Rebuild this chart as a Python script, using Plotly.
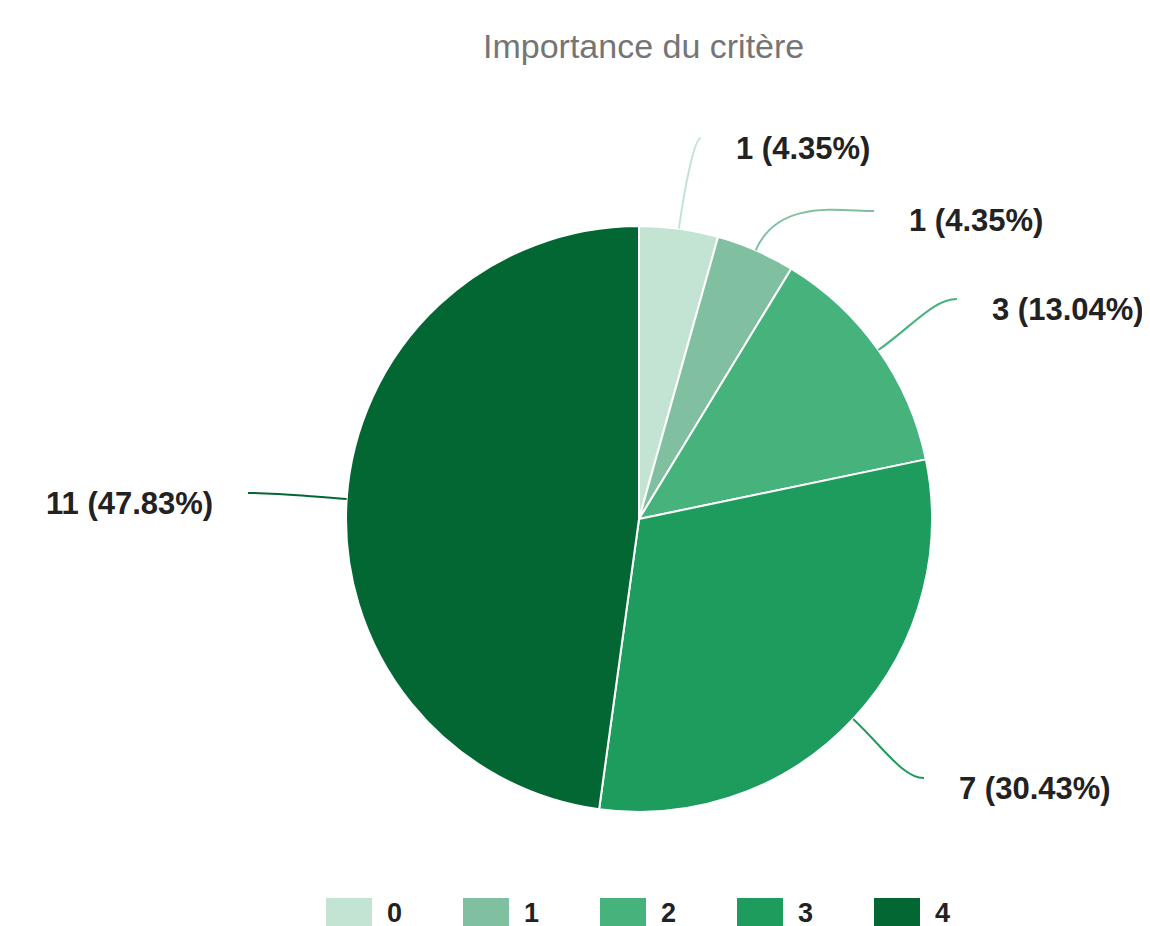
import math
import plotly.graph_objects as go

# ---- data ----
categories = ["0", "1", "2", "3", "4"]
values = [1, 1, 3, 7, 11]
colors = ["#c4e4d3", "#80c0a0", "#46b37d", "#1d9c5e", "#036733"]
line_colors = ["#c4e4d3", "#80c0a0", "#46b37d", "#1d9c5e", "#036733"]
title_text = "Importance du critère"

# ---- layout constants (pixels) ----
W, H = 1150, 926
CX, CY, R = 631, 511, 293
# label anchor (x, y, side) for each slice
LABEL_POS = [(726, 140, "left"), (899, 213, "left"), (982, 301, "left"),
             (949, 780, "left"), (207, 495, "right")]
LEGEND_X0, LEGEND_STEP, LEGEND_Y0, LEGEND_Y1, LEGEND_W = 318, 137, 890, 923, 46

def px(x):
    return x / W

def py(y):
    return 1 - y / H

fig = go.Figure(go.Pie(
    labels=categories,
    values=values,
    sort=False,
    direction="clockwise",
    rotation=0,
    marker=dict(colors=colors, line=dict(color="white", width=2)),
    textinfo="none",
    hoverinfo="label+value+percent",
    domain=dict(x=[px(CX - R), px(CX + R)], y=[py(CY + R), py(CY - R)]),
    showlegend=False,
))

total = sum(values)
shapes = []
annotations = []
cum = 0
for i, v in enumerate(values):
    mid = (cum + v / 2) / total * 2 * math.pi
    cum += v
    ux, uy = math.sin(mid), -math.cos(mid)
    sx, sy = CX + R * ux, CY + R * uy
    lx, ly, side = LABEL_POS[i]
    h = 1 if side == "left" else -1
    ex, ey = lx - h * 33, ly - 10
    dist = math.hypot(ex - sx, ey - sy)
    c1x, c1y = sx + ux * dist * 0.45, sy + uy * dist * 0.45
    c2x, c2y = ex - h * abs(ex - sx) * 0.3, ey
    path = (f"M {px(sx)},{py(sy)} C {px(c1x)},{py(c1y)} "
            f"{px(c2x)},{py(c2y)} {px(ex)},{py(ey)}")
    shapes.append(dict(type="path", xref="paper", yref="paper", path=path,
                       line=dict(color=line_colors[i], width=2)))
    pct = v / total * 100
    annotations.append(dict(
        x=px(lx), y=py(ly), xref="paper", yref="paper",
        text=f"<b>{v} ({pct:.2f}%)</b>", showarrow=False,
        xanchor="left" if side == "left" else "right", yanchor="middle",
        font=dict(family="Liberation Sans, Arial, sans-serif", size=31, color="#222222"),
    ))

# custom legend
for i, c in enumerate(categories):
    x0 = LEGEND_X0 + LEGEND_STEP * i
    shapes.append(dict(type="rect", xref="paper", yref="paper",
                       x0=px(x0), x1=px(x0 + LEGEND_W),
                       y0=py(LEGEND_Y1), y1=py(LEGEND_Y0),
                       fillcolor=colors[i], line=dict(width=0)))
    annotations.append(dict(
        x=px(x0 + LEGEND_W + 13), y=py(905), xref="paper", yref="paper",
        text=f"<b>{c}</b>", showarrow=False,
        xanchor="left", yanchor="middle",
        font=dict(family="Liberation Sans, Arial, sans-serif", size=27, color="#222222"),
    ))

annotations.append(dict(
    x=px(CX + 4), y=py(38), xref="paper", yref="paper", text=title_text,
    showarrow=False, xanchor="center", yanchor="middle",
    font=dict(family="Liberation Sans, Arial, sans-serif", size=34, color="#757575"),
))

fig.update_layout(
    width=W, height=H,
    margin=dict(l=0, r=0, t=0, b=0),
    paper_bgcolor="white", plot_bgcolor="white",
    shapes=shapes, annotations=annotations,
    showlegend=False,
)

fig.write_html("out.html")
